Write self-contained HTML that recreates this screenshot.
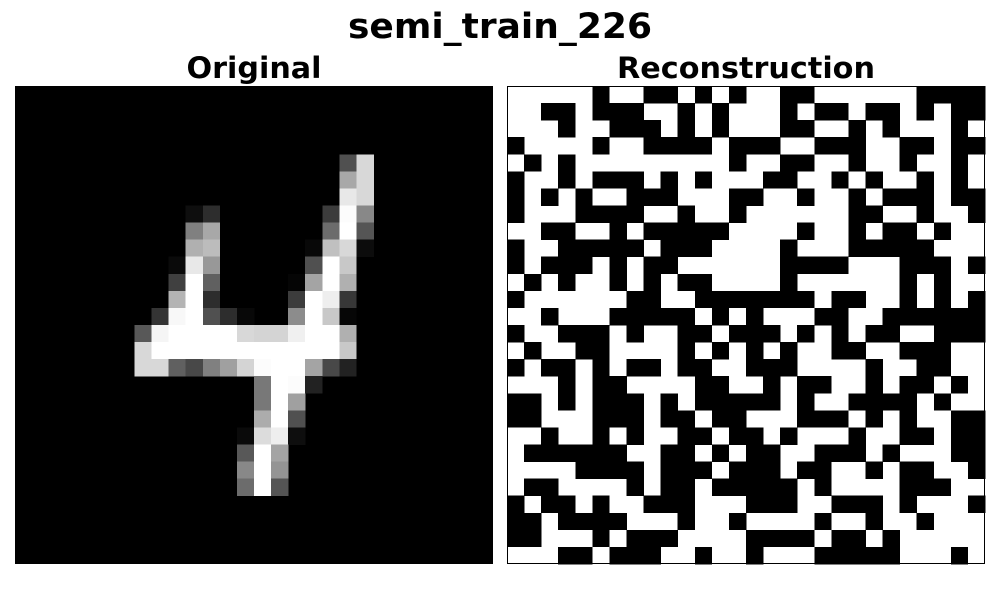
<!DOCTYPE html>
<html><head><meta charset="utf-8"><style>
html,body{margin:0;padding:0;background:#fff;}
svg{display:block;}
text{font-family:"DejaVu Sans","Liberation Sans",sans-serif;font-weight:bold;fill:#000;}
</style></head><body>
<svg id="fig" width="1000" height="600" viewBox="0 0 1000 600">
<text x="500" y="38" text-anchor="middle" font-size="35" textLength="304" lengthAdjust="spacingAndGlyphs">semi_train_226</text>
<text x="254" y="78" text-anchor="middle" font-size="29" textLength="135" lengthAdjust="spacingAndGlyphs">Original</text>
<text x="746" y="78" text-anchor="middle" font-size="29" textLength="258" lengthAdjust="spacingAndGlyphs">Reconstruction</text>
<g id="orig" shape-rendering="crispEdges"></g>
<g id="recon" shape-rendering="crispEdges"></g>
</svg>
<script>
// Original image: nonzero pixels [row, col, gray 0-255]
const origPixels = [
[4,19,80],[4,20,216],
[5,19,168],[5,20,216],
[6,19,232],[6,20,216],
[7,10,14],[7,11,45],[7,18,60],[7,19,252],[7,20,136],
[8,10,128],[8,11,168],[8,18,108],[8,19,255],[8,20,85],
[9,10,176],[9,11,188],[9,17,8],[9,18,192],[9,19,216],[9,20,12],
[10,9,10],[10,10,232],[10,11,152],[10,17,80],[10,18,255],[10,19,200],
[11,9,64],[11,10,255],[11,11,96],[11,16,5],[11,17,164],[11,18,255],[11,19,176],
[12,9,180],[12,10,255],[12,11,45],[12,16,60],[12,17,255],[12,18,238],[12,19,55],
[13,8,52],[13,9,248],[13,10,255],[13,11,80],[13,12,45],[13,13,8],[13,16,140],[13,17,255],[13,18,200],[13,19,6],
[14,7,88],[14,8,245],[14,9,255],[14,10,255],[14,11,255],[14,12,255],[14,13,216],[14,14,212],[14,15,212],[14,16,240],[14,17,255],[14,18,255],[14,19,176],
[15,7,216],[15,8,255],[15,9,255],[15,10,255],[15,11,255],[15,12,255],[15,13,255],[15,14,255],[15,15,255],[15,16,255],[15,17,255],[15,18,255],[15,19,200],
[16,7,216],[16,8,216],[16,9,96],[16,10,72],[16,11,128],[16,12,160],[16,13,212],[16,14,252],[16,15,255],[16,16,255],[16,17,164],[16,18,72],[16,19,34],
[17,14,120],[17,15,255],[17,16,252],[17,17,34],
[18,14,120],[18,15,255],[18,16,160],
[19,14,172],[19,15,255],[19,16,80],
[20,13,10],[20,14,220],[20,15,238],[20,16,14],
[21,13,88],[21,14,255],[21,15,164],
[22,13,136],[22,14,255],[22,15,148],
[23,13,108],[23,14,255],[23,15,84]
];
// Reconstruction: 1 = black, 0 = white
const reconRows = [
"0000010011010100110000001111",
"0011011100101000101101101011",
"0001001110101000110010100010",
"1000010011110111001110011011",
"0101000000000100110010010010",
"1001011101010001100101001010",
"1010100111000110010010111011",
"1000111100100100000011001001",
"0011001011111000010010110100",
"1001111101110000100011111000",
"1011101011000000111100011101",
"0101001010110000100000010100",
"1000000110011111110110010101",
"0010001111101010001100111111",
"1001110100110111010101100111",
"0100110000101010100110011100",
"1011010110110011100001001100",
"0001011000011001011001011010",
"1101011101011111010011110100",
"1100011101101100011101010011",
"0010010100110110100010011011",
"0111111001101011001110100011",
"0000111101110111011001011001",
"0110000101101111101000011100",
"1011010011100011100111010001",
"1101111000100100001001001000",
"1100010111000011110110100000",
"0001101110010010001111100010"
];
const N = 28, SIZE = 478, TOP = 86;
const cell = SIZE / N;
const NS = "http://www.w3.org/2000/svg";
function xPos(left, c){ return left + c * cell; }
function yPos(r){ return TOP + r * cell; }
function rect(g, x, y, w, h, fill){
  const e = document.createElementNS(NS, "rect");
  e.setAttribute("x", x); e.setAttribute("y", y);
  e.setAttribute("width", w); e.setAttribute("height", h);
  e.setAttribute("fill", fill);
  g.appendChild(e);
  return e;
}
const og = document.getElementById("orig");
const bg = rect(og, 15, TOP, SIZE, SIZE, "#000");


origPixels.forEach(p => {
  const v = p[2];
  const e = rect(og, xPos(15, p[1]), yPos(p[0]), cell + 0.3, cell + 0.3, `rgb(${v},${v},${v})`);
  
  
});
const rg = document.getElementById("recon");
const rbg = rect(rg, 507, TOP, SIZE, SIZE, "#fff");


reconRows.forEach((row, r) => {
  for (let c = 0; c < N; c++) {
    if (row[c] === "1") {
      const e = rect(rg, xPos(507, c), yPos(r), cell + 0.3, cell + 0.3, "#000");
      
      
    }
  }
});
const b = rect(rg, 507.5, TOP + 0.5, SIZE - 1, SIZE - 1, "none");
b.setAttribute("stroke", "#000");


</script>
</body></html>
